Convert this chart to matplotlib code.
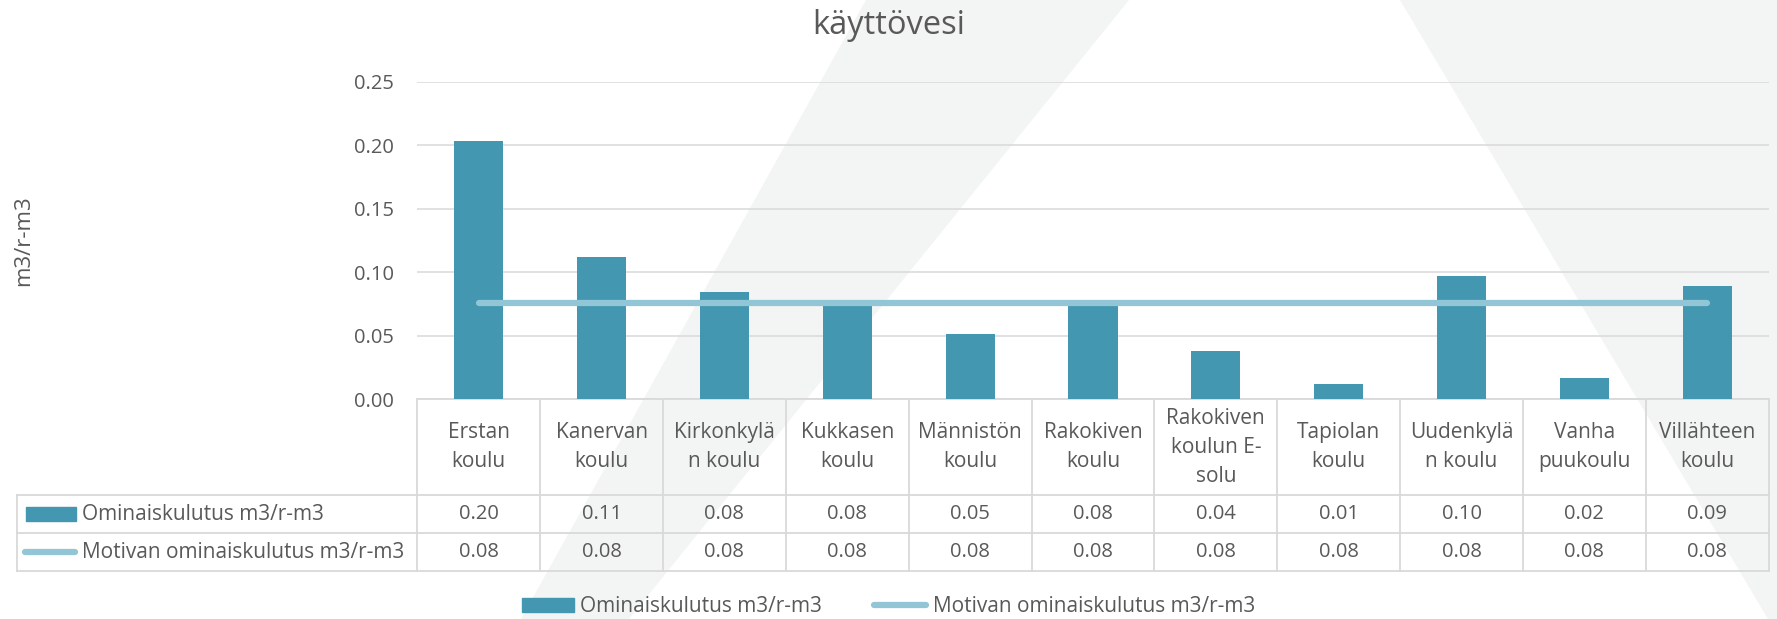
import numpy as np
import matplotlib
matplotlib.use("Agg")
import matplotlib.pyplot as plt
from matplotlib.patches import Rectangle, Polygon
from matplotlib.lines import Line2D

plt.rcParams['font.family'] = ['Open Sans', 'DejaVu Sans']

# data
categories = ["Erstan\nkoulu", "Kanervan\nkoulu", "Kirkonkylä\nn koulu", "Kukkasen\nkoulu",
              "Männistön\nkoulu", "Rakokiven\nkoulu", "Rakokiven\nkoulun E-\nsolu",
              "Tapiolan\nkoulu", "Uudenkylä\nn koulu", "Vanha\npuukoulu", "Villähteen\nkoulu"]
ominais = [0.2032, 0.1118, 0.0843, 0.0765, 0.0513, 0.0765, 0.0379, 0.0118, 0.0969, 0.0171, 0.0888]
motiva = [0.0758] * 11
series_names = ["Ominaiskulutus m3/r-m3", "Motivan ominaiskulutus m3/r-m3"]
title = "käyttövesi"
ylabel = "m3/r-m3"

BAR = '#4397B0'
LINE = '#92C5D6'
TXT = '#595959'
GRID = '#D9D9D9'
WM = '#F3F4F4'

W, H = 1777, 619
fig = plt.figure(figsize=(W / 100, H / 100), dpi=100)
fig.patch.set_facecolor('white')

# faint watermark shapes behind the chart
bg = fig.add_axes([0, 0, 1, 1], zorder=-10)
bg.set_xlim(0, W)
bg.set_ylim(H, 0)
bg.axis('off')
bg.add_patch(Polygon([(866, 0), (1129, 0), (629, H), (521, H)], closed=True, color=WM, lw=0))
bg.add_patch(Polygon([(1400, 0), (W, 0), (W, H), (1768, H)], closed=True, color=WM, lw=0))

# plot area in pixels
x0, y_axis, pw, ph = 417.3, 399.3, 1351.4, 317.7
ax = fig.add_axes([x0 / W, (H - y_axis) / H, pw / W, ph / H])
ax.set_facecolor('none')

x = np.arange(len(categories))
ax.bar(x, ominais, width=0.4, color=BAR, zorder=2)
ax.plot(x, motiva, color=LINE, lw=4.5, solid_capstyle='round', zorder=3)

ax.set_xlim(-0.5, len(categories) - 0.5)
ax.set_ylim(0, 0.25)
ax.set_yticks(np.arange(0, 0.2501, 0.05))
ax.set_yticklabels([f"{v:.2f}" for v in np.arange(0, 0.2501, 0.05)])
ax.set_xticks([])
ax.tick_params(axis='y', length=0, pad=17, labelsize=14.5, labelcolor=TXT)
ax.grid(axis='y', color=GRID, lw=1.1, zorder=0)
for s in ax.spines.values():
    s.set_visible(False)

ax.set_ylabel(ylabel, fontsize=16, color=TXT, labelpad=0)
ax.yaxis.set_label_coords((34 - x0) / pw, 0.5)

fig.text(0.5, 1 - 25 / H, title, ha='center', va='center', fontsize=23.5, color=TXT)

# data table under the plot
def ay(px):
    return -px / ph

def axx(px):
    return (px - x0) / pw

rows = [0, 95.7, 134, 171.7]
tleft = axx(17)
kw = dict(color=GRID, lw=1.3, clip_on=False, zorder=1)
ax.plot([0, 1], [0, 0], transform=ax.transAxes, **kw)
for r in rows[1:]:
    ax.plot([tleft, 1], [ay(r), ay(r)], transform=ax.transAxes, **kw)
for i in range(len(categories) + 1):
    ax.plot([i - 0.5, i - 0.5], [0, ay(rows[-1])], transform=ax.get_xaxis_transform(), **kw)
ax.plot([tleft, tleft], [ay(rows[1]), ay(rows[-1])], transform=ax.transAxes, **kw)

tr = ax.get_xaxis_transform()
for i, c in enumerate(categories):
    ax.text(i, ay((rows[0] + rows[1]) / 2), c, transform=tr, ha='center', va='center',
            fontsize=15, color=TXT, linespacing=1.5, clip_on=False)
    ax.text(i, ay((rows[1] + rows[2]) / 2), f"{ominais[i]:.2f}", transform=tr, ha='center',
            va='center', fontsize=14.5, color=TXT, clip_on=False)
    ax.text(i, ay((rows[2] + rows[3]) / 2), f"{motiva[i]:.2f}", transform=tr, ha='center',
            va='center', fontsize=14.5, color=TXT, clip_on=False)

# row headers with legend keys
y1 = (rows[1] + rows[2]) / 2
y2 = (rows[2] + rows[3]) / 2
ax.add_patch(Rectangle((axx(26), ay(y1 + 7)), 50 / pw, 14 / ph, transform=ax.transAxes,
                       color=BAR, clip_on=False))
ax.add_line(Line2D([axx(25), axx(75)], [ay(y2), ay(y2)], transform=ax.transAxes, color=LINE,
                   lw=4.5, solid_capstyle='round', clip_on=False))
ax.text(axx(82), ay(y1), series_names[0], transform=ax.transAxes, ha='left', va='center',
        fontsize=15, color=TXT, clip_on=False)
ax.text(axx(82), ay(y2), series_names[1], transform=ax.transAxes, ha='left', va='center',
        fontsize=15, color=TXT, clip_on=False)

# legend at the bottom
handles = [Rectangle((0, 0), 1, 1, color=BAR),
           Line2D([0], [0], color=LINE, lw=4.5, solid_capstyle='round')]
leg = fig.legend(handles, series_names, loc='center', bbox_to_anchor=(0.5, 1 - 607 / H), ncol=2,
                 frameon=False, fontsize=15, handlelength=2.5, handleheight=0.65,
                 handletextpad=0.3, columnspacing=2.5, borderpad=0)
for t in leg.get_texts():
    t.set_color(TXT)

fig.savefig("out.png", dpi=100, facecolor='white')
